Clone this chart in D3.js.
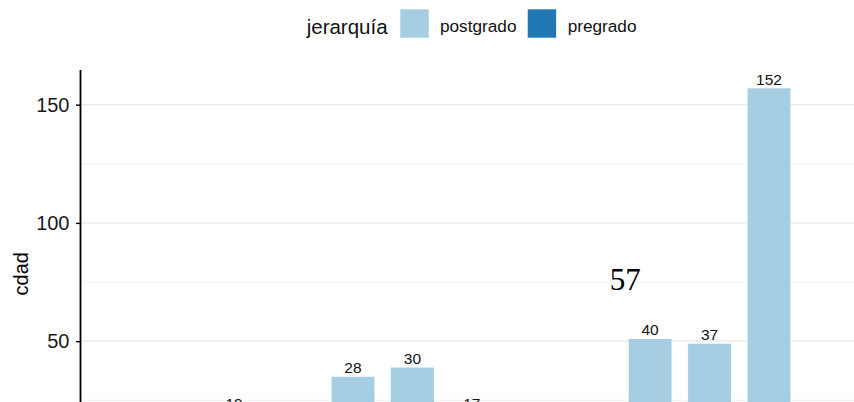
<!DOCTYPE html>
<html><head><meta charset="utf-8">
<script src="https://cdn.jsdelivr.net/npm/d3@7"></script>
<style>
body{margin:0;background:#fff;overflow:hidden}
svg{display:block;font-family:"Liberation Sans",Arial,Helvetica,sans-serif}
</style>
</head><body>
<svg id="c" width="854" height="402"></svg>
<script>
// ---- data ----
const categories = ["c01","c02","c03","c04","c05","c06","c07","c08","c09","c10","c11","c12","c13"];
const postgrado = [12, 9, 19, 14, 28, 30, 17, 11, 8, 40, 37, 152, 6];
const pregrado  = [2, 1, 1, 2, 7, 9, 3, 4, 5, 11, 12, 5, 2];
const seriesNames = ["postgrado", "pregrado"];
const seriesColors = ["#a6cee3", "#1f78b4"];
const yTicks = [0, 50, 100, 150];
const yMinorTicks = [25, 75, 125];
const legendTitle = "jerarquía";
const yTitle = "cdad";
const annotations = [{x: 9.58, y: 76, label: "57"}];

// ---- layout ----
const W = 854, H = 402;
const svg = d3.select("#c");
const panelLeft = 79.6, panelTop = 69.5, panelBottom = 478;
const step = 59.43;
const panelRight = panelLeft + (categories.length + 0.2) * step;

const rows = categories.map((c, i) => ({cat: c, postgrado: postgrado[i], pregrado: pregrado[i]}));
const stacked = d3.stack().keys(["pregrado", "postgrado"])(rows);
const maxTotal = d3.max(rows, d => d.postgrado + d.pregrado);

const x = d3.scalePoint().domain(categories).range([panelLeft, panelRight]).padding(0.6);
const y = d3.scaleLinear().domain([-0.05 * maxTotal, 1.05 * maxTotal]).range([panelBottom, panelTop]);
const color = d3.scaleOrdinal().domain(seriesNames).range(seriesColors);
const barW = 0.73 * x.step();
const xNum = v => x(categories[0]) + (v - 1) * x.step();

// gridlines
const grid = svg.append("g");
grid.selectAll(".minor").data(yMinorTicks).join("line")
  .attr("x1", panelLeft).attr("x2", panelRight)
  .attr("y1", d => y(d)).attr("y2", d => y(d))
  .attr("stroke", "#eeeeee").attr("stroke-width", 0.9);
grid.selectAll(".major").data(yTicks).join("line")
  .attr("x1", panelLeft).attr("x2", panelRight)
  .attr("y1", d => y(d)).attr("y2", d => y(d))
  .attr("stroke", "#e8e8e8").attr("stroke-width", 1.2);

// bars
svg.append("g").selectAll("g").data(stacked).join("g")
  .attr("fill", d => color(d.key))
  .selectAll("rect").data(d => d).join("rect")
  .attr("x", d => x(d.data.cat) - barW / 2)
  .attr("width", barW)
  .attr("y", d => y(d[1]))
  .attr("height", d => y(d[0]) - y(d[1]))
  .attr("stroke", "#ffffff").attr("stroke-width", 0.4);

// postgrado labels at top of the stack (only those reaching into the picture)
const postLayer = stacked.find(s => s.key === "postgrado");
svg.append("g").selectAll("text")
  .data(postLayer.filter(d => y(d[1]) - 3.5 - 11 < H))
  .join("text")
  .attr("x", d => x(d.data.cat))
  .attr("y", d => y(d[1]) - 3.5)
  .attr("text-anchor", "middle")
  .attr("font-size", 15.5)
  .attr("fill", "#111")
  .text(d => d.data.postgrado);

// annotation
svg.append("g").selectAll("text").data(annotations).join("text")
  .attr("x", d => xNum(d.x))
  .attr("y", d => y(d.y))
  .attr("dy", "0.34em")
  .attr("text-anchor", "middle")
  .attr("font-family", "'Liberation Serif','Times New Roman',serif")
  .attr("font-size", 31)
  .attr("fill", "#000")
  .text(d => d.label);

// y axis
const yAxis = svg.append("g").attr("transform", `translate(${panelLeft + 0.4},0)`)
  .call(d3.axisLeft(y).tickValues(yTicks.filter(v => y(v) < H)).tickSize(4).tickSizeOuter(0).tickPadding(6.5));
yAxis.select(".domain").attr("stroke", "#000").attr("stroke-width", 1.8);
yAxis.selectAll(".tick line").attr("stroke", "#000").attr("stroke-width", 1.4);
yAxis.selectAll(".tick text").attr("font-size", 20).attr("fill", "#1a1a1a")
  .attr("font-family", "'Liberation Sans',Arial,sans-serif");

// y title
svg.append("text")
  .attr("transform", `translate(27.5,${(panelTop + panelBottom) / 2}) rotate(-90)`)
  .attr("text-anchor", "middle")
  .attr("font-size", 20)
  .attr("fill", "#000")
  .text(yTitle);

// legend
const leg = svg.append("g");
leg.append("text").attr("x", 306.7).attr("y", 34).attr("font-size", 20.5).attr("fill", "#111").text(legendTitle);
const keyX = [400, 527.3], labX = [440, 567.7];
seriesNames.forEach((n, i) => {
  leg.append("rect").attr("x", keyX[i]).attr("y", 9).attr("width", 29).attr("height", 29)
    .attr("fill", color(n)).attr("stroke", "#fff").attr("stroke-width", 0.6);
  leg.append("text").attr("x", labX[i]).attr("y", 32.3).attr("font-size", 17.2).attr("fill", "#111").text(n);
});
</script>
</body></html>
